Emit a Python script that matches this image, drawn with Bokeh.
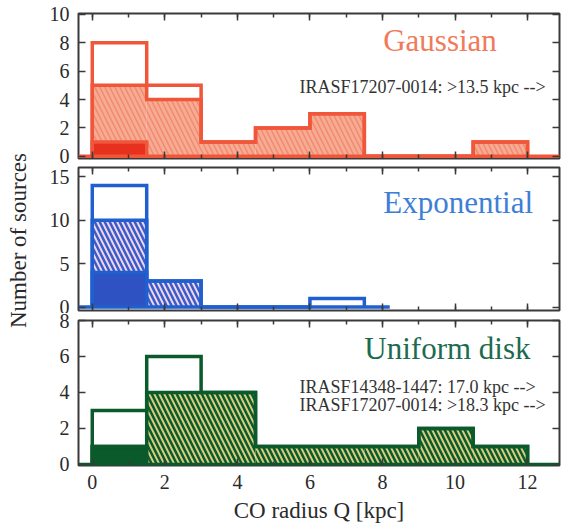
import numpy as np
from bokeh.plotting import figure
from bokeh.layouts import column, row
from bokeh.models import LinearAxis, FixedTicker, SingleIntervalTicker, Label, Range1d, Grid
from bokeh.embed import file_html
from bokeh.resources import INLINE

# CO radius bins [kpc]
bin_edges = [0.0, 1.5, 3.0, 4.5, 6.0, 7.5, 9.0, 10.5, 12.0]

# Counts per bin for each source profile, split into three stacked classes
gauss_solid = [1, 0, 0, 0, 0, 0, 0, 0]
gauss_hatched = [4, 4, 1, 2, 3, 0, 0, 1]
gauss_open = [3, 1, 0, 0, 0, 0, 0, 0]

expo_solid = [4, 0, 0, 0, 0, 0, 0, 0]
expo_hatched = [6, 3, 0, 0, 0, 0, 0, 0]
expo_open = [4, 0, 0, 0, 1, 0, 0, 0]

disk_solid = [1, 0, 0, 0, 0, 0, 0, 0]
disk_hatched = [0, 4, 4, 1, 1, 1, 2, 1]
disk_open = [2, 2, 0, 0, 0, 0, 0, 0]

x_tick_values = [0, 2, 4, 6, 8, 10, 12]
gauss_ticks = [0, 2, 4, 6, 8, 10]
expo_ticks = [0, 5, 10, 15]
disk_ticks = [0, 2, 4, 6, 8]

FONT = "'Liberation Serif', 'Times New Roman', serif"
FRAME = "#3a3a3a"
INK = "#2a2a2a"

x_range = Range1d(-0.38, 12.88)


def step_path(edges, heights):
    h = list(heights)
    while h and h[-1] == 0:
        h.pop()
    xs, ys = [edges[0]], [0]
    for i, v in enumerate(h):
        xs += [edges[i], edges[i + 1]]
        ys += [v, v]
    xs.append(edges[len(h)])
    ys.append(0)
    return xs, ys


def style_axis(ax, labels=True):
    ax.major_tick_in = 7
    ax.major_tick_out = 0
    ax.minor_tick_in = 4
    ax.minor_tick_out = 0
    ax.major_tick_line_color = FRAME
    ax.minor_tick_line_color = FRAME
    ax.major_tick_line_width = 1.5
    ax.minor_tick_line_width = 1.5
    ax.axis_line_color = None
    if labels:
        ax.major_label_text_font = FONT
        ax.major_label_text_font_size = "20px"
        ax.major_label_text_color = INK
        ax.major_label_standoff = 9
    else:
        ax.major_label_text_font_size = "0px"
        ax.major_label_standoff = 0


def panel(solid, hatched, opn, yticks, yrange, line_col, solid_col, hatch_bg,
          hatch_col, hatch_w, border_top, frame_h, border_bottom, base_end,
          x_labels=False):
    p = figure(frame_width=481, frame_height=frame_h,
               min_border_left=40, min_border_right=4,
               min_border_top=border_top, min_border_bottom=border_bottom,
               x_range=x_range, y_range=Range1d(*yrange),
               x_axis_location=None, y_axis_location=None,
               output_backend="svg", toolbar_location=None)
    for g in p.select(type=Grid):
        g.visible = False
    p.outline_line_color = FRAME
    p.outline_line_width = 2
    p.background_fill_color = "white"
    p.border_fill_color = "white"

    xt = SingleIntervalTicker(interval=2, num_minor_ticks=2)
    yt = FixedTicker(ticks=yticks, minor_ticks=[])

    below = LinearAxis(ticker=xt)
    style_axis(below, labels=x_labels)
    if x_labels:
        below.axis_label = "CO radius Q [kpc]"
        below.axis_label_text_font = FONT
        below.axis_label_text_font_size = "23px"
        below.axis_label_text_font_style = "normal"
        below.axis_label_text_color = INK
        below.axis_label_standoff = 6
    p.add_layout(below, "below")
    above = LinearAxis(ticker=xt)
    style_axis(above, labels=False)
    p.add_layout(above, "above")

    left = LinearAxis(ticker=yt)
    style_axis(left)
    p.add_layout(left, "left")
    right = LinearAxis(ticker=yt)
    style_axis(right, labels=False)
    p.add_layout(right, "right")

    s = np.array(solid)
    h = np.array(hatched)
    o = np.array(opn)
    lefts, rights = bin_edges[:-1], bin_edges[1:]

    p.quad(left=lefts, right=rights, bottom=0, top=s,
           fill_color=solid_col, line_color=None)
    p.quad(left=lefts, right=rights, bottom=s, top=s + h,
           fill_color=hatch_bg, hatch_pattern="left_diagonal_line",
           hatch_color=hatch_col, hatch_scale=10, hatch_weight=hatch_w,
           line_color=None)

    p.line([x_range.start, base_end], [0, 0], line_color=line_col, line_width=3.5)
    for heights in (s, s + h, s + h + o):
        xs, ys = step_path(bin_edges, heights)
        p.line(xs, ys, line_color=line_col, line_width=3.5, line_join="miter")
    return p


top = panel(gauss_solid, gauss_hatched, gauss_open, gauss_ticks, (-0.16, 10.07),
            "#f0563a", "#e8301e", "#f6ab94", "#f38a6d", 1.5,
            13, 145, 7, 12.88)
mid = panel(expo_solid, expo_hatched, expo_open, expo_ticks, (-0.39, 16.08),
            "#1f5fd0", "#2f52c2", "#f0d6ec", "#3a5cc8", 2.5,
            2, 143, 3, 8.2)
bot = panel(disk_solid, disk_hatched, disk_open, disk_ticks, (-0.06, 8.0),
            "#0b5a2c", "#0b5a2c", "#d8cc7e", "#0b5a2c", 2.5,
            7, 145, 58, 12.88, x_labels=True)


def add_text(p, x, y, text, size, color):
    p.add_layout(Label(x=x, y=y, text=text, text_font=FONT, text_font_size=size,
                       text_color=color, text_baseline="middle", text_align="left"))


add_text(top, 8.02, 8.17, "Gaussian", "31px", "#f07a5a")
add_text(top, 5.71, 4.85, "IRASF17207-0014: >13.5 kpc -->", "18px", "#333333")
add_text(mid, 8.02, 12.0, "Exponential", "31px", "#3d7fd6")
add_text(bot, 7.5, 6.43, "Uniform disk", "31px", "#1c6b50")
add_text(bot, 5.71, 4.29, "IRASF14348-1447: 17.0 kpc -->", "18px", "#333333")
add_text(bot, 5.71, 3.30, "IRASF17207-0014: >18.3 kpc -->", "18px", "#333333")

# shared y-axis title in a narrow strip left of the panels
ylab = figure(width=38, height=523, x_range=Range1d(0, 38), y_range=Range1d(0, 523),
              x_axis_location=None, y_axis_location=None, min_border=0,
              output_backend="svg", toolbar_location=None)
for g in ylab.select(type=Grid):
    g.visible = False
ylab.outline_line_color = None
ylab.add_layout(Label(x=18, y=283, text="Number of sources", angle=np.pi / 2,
                      text_font=FONT, text_font_size="23px", text_color=INK,
                      text_align="center", text_baseline="middle"))

layout = row(ylab, column(top, mid, bot, spacing=0), spacing=0)
open("out.html", "w").write(file_html(layout, INLINE))
